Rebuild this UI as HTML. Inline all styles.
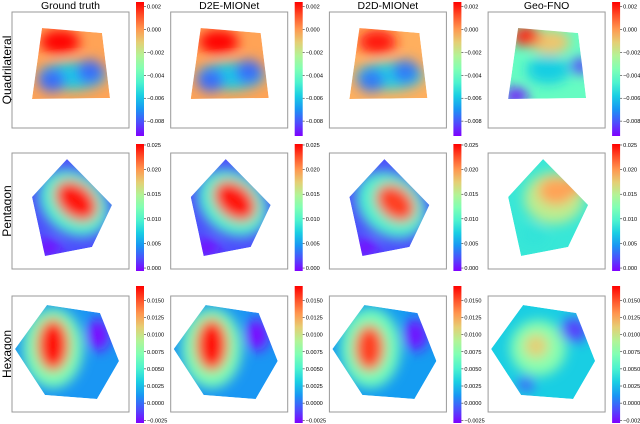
<!DOCTYPE html>
<html><head><meta charset="utf-8">
<style>
html,body{margin:0;padding:0;background:#fff;}
svg{display:block;font-family:"Liberation Sans",sans-serif;}
</style></head>
<body>
<svg id="fig" width="640" height="424" viewBox="0 0 640 424" xmlns="http://www.w3.org/2000/svg">
<defs>
<filter id="blur" x="-50%" y="-50%" width="200%" height="200%"><feGaussianBlur stdDeviation="6"/></filter>
<linearGradient id="cbgrad" x1="0" y1="1" x2="0" y2="0"></linearGradient>
</defs>
</svg>
<script>
const methods = ["Ground truth","D2E-MIONet","D2D-MIONet","Geo-FNO"];
const shapes = ["Quadrilateral","Pentagon","Hexagon"];
const polyQuad = [[30,16],[90,21],[98,86],[20,87]];
const polyPent = [[55,6],[100,52],[80,94],[33,103],[20,44]];
const polyHex = [[35,9],[88,17],[107,65],[85,103],[33,99],[3,53]];
const cbarMin = [-0.0093,-0.0006,-0.0029];
const cbarMax = [0.0024,0.0252,0.0171];
const ticks0 = [0.002,0.000,-0.002,-0.004,-0.006,-0.008];
const ticks1 = [0.025,0.020,0.015,0.010,0.005,0.000];
const ticks2 = [0.0150,0.0125,0.0100,0.0075,0.0050,0.0025,0.0000,-0.0025];
const tickLabels0 = ["0.002","0.000","\u22120.002","\u22120.004","\u22120.006","\u22120.008"];
const tickLabels1 = ["0.025","0.020","0.015","0.010","0.005","0.000"];
const tickLabels2 = ["0.0150","0.0125","0.0100","0.0075","0.0050","0.0025","0.0000","\u22120.0025"];
const baseVals = [[0.78,0.78,0.76,0.45],[0.1,0.1,0.1,0.36],[0.2,0.2,0.21,0.3]];
// blobs: [x,y,rx,ry,rotation,value]
const blobsQuadGT = [[60,64,34,14,0,0.3],[40,68,14,12,0,0.14],[78,60,14,12,0,0.14],[48,30,20,12,0,1.0]];
const blobsQuadD2D = [[60,64,34,14,0,0.32],[42,68,14,12,0,0.16],[76,60,14,12,0,0.16],[48,30,19,12,0,0.97]];
const blobsQuadGeo = [[62,30,20,12,0,0.72],[60,58,22,14,0,0.3],[38,24,14,10,0,0.95],[92,54,10,8,0,0.08],[28,84,12,8,0,0.02]];
const blobsPentGT = [[62,50,38,30,40,0.4],[64,48,24,17,40,0.97],[35,95,14,9,0,0.02]];
const blobsPentD2D = [[62,52,38,30,40,0.4],[66,50,22,16,40,0.92],[35,95,14,9,0,0.02]];
const blobsPentGeo = [[66,45,30,26,0,0.62],[68,38,18,14,0,0.78],[88,32,10,8,0,0.8],[45,82,14,10,0,0.35]];
const blobsHexGT = [[41,52,30,40,0,0.5],[41,49,16,26,0,0.97],[86,39,12,16,0,0.01]];
const blobsHexD2D = [[41,52,30,40,0,0.48],[40,52,15,23,0,0.92],[86,39,13,16,0,0.03]];
const blobsHexGeo = [[50,52,28,28,0,0.52],[48,50,12,12,0,0.7],[86,34,14,12,0,0.08],[38,88,8,8,0,0.12]];

const blobSets = [[blobsQuadGT,blobsQuadGT,blobsQuadD2D,blobsQuadGeo],[blobsPentGT,blobsPentGT,blobsPentD2D,blobsPentGeo],[blobsHexGT,blobsHexGT,blobsHexD2D,blobsHexGeo]];
const polys = [polyQuad,polyPent,polyHex];
const tickSets = [ticks0,ticks1,ticks2];
const tickLabelSets = [tickLabels0,tickLabels1,tickLabels2];

function cmap(x){
  x=Math.max(0,Math.min(1,x));
  const r=Math.min(1,Math.abs(2*x-0.5)), g=Math.sin(Math.PI*x), b=Math.cos(Math.PI*x/2);
  const h=v=>Math.round(Math.max(0,v)*255).toString(16).padStart(2,'0');
  return '#'+h(r)+h(g)+h(b);
}
const NS="http://www.w3.org/2000/svg";
const svg=document.getElementById('fig');
const defs=svg.querySelector('defs');
const grad=document.getElementById('cbgrad');
for(let i=0;i<=10;i++){const s=document.createElementNS(NS,'stop');s.setAttribute('offset',i/10);s.setAttribute('stop-color',cmap(i/10));grad.appendChild(s);}
function el(tag,attrs,parent){const e=document.createElementNS(NS,tag);for(const k in attrs)e.setAttribute(k,attrs[k]);(parent||svg).appendChild(e);return e;}

const colX = c => 12 + 158.7*c;
const rowY = [12,153,296];
const boxW = 117, boxH = 116;
const cbTop = [2,144,286], cbBot = [136,271,423];

methods.forEach((m,c)=>{
  const t=el('text',{x:colX(c)+boxW/2,y:9,'text-anchor':'middle','font-size':10.5,fill:'#000'});
  t.textContent=m;
  
  
});
shapes.forEach((s,r)=>{
  const cy=rowY[r]+boxH/2;
  const t=el('text',{x:0,y:0,'text-anchor':'middle','font-size':12,fill:'#000',transform:`translate(11,${cy}) rotate(-90)`});
  t.textContent=s;
  
  
  for(let c=0;c<4;c++){
    const x0=colX(c), y0=rowY[r];
    const g=el('g',{transform:`translate(${x0},${y0})`});
    
    
    el('rect',{x:0,y:0,width:boxW,height:boxH,fill:'#fff',stroke:'#999','stroke-width':1},g);
    const cid='clip'+r+'_'+c;
    const cp=el('clipPath',{id:cid},defs);
    const pts=polys[r].map(p=>p.join(',')).join(' ');
    el('polygon',{points:pts},cp);
    const inner=el('g',{'clip-path':`url(#${cid})`},g);
    el('polygon',{points:pts,fill:cmap(baseVals[r][c])},inner);
    const fg=el('g',{filter:'url(#blur)'},inner);
    blobSets[r][c].forEach(b=>{
      const e=el('ellipse',{cx:b[0],cy:b[1],rx:b[2],ry:b[3],transform:`rotate(${b[4]} ${b[0]} ${b[1]})`,fill:cmap(b[5])},fg);
      
      
    });
    const cbx=x0+124, yt=cbTop[r], yb=cbBot[r];
    const cb=el('rect',{x:cbx,y:yt,width:8,height:yb-yt,fill:'url(#cbgrad)'});
    
    
    const ys=v=>yb-(v-cbarMin[r])/(cbarMax[r]-cbarMin[r])*(yb-yt);
    tickSets[r].forEach((v,i)=>{
      const y=ys(v);
      el('line',{x1:cbx+8,x2:cbx+10,y1:y,y2:y,stroke:'#000','stroke-width':0.5});
      const tl=el('text',{x:cbx+11,y:y+2,'font-size':5.6,fill:'#000'});
      tl.textContent=tickLabelSets[r][i];
      
      
    });
  }
});
</script>
</body></html>
